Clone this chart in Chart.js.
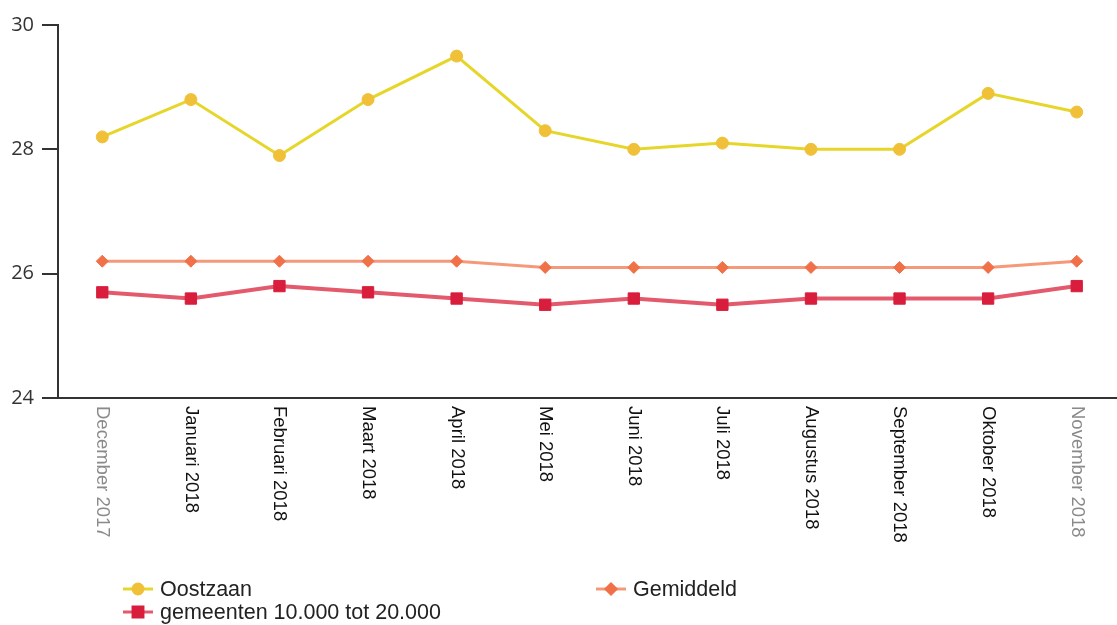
<!DOCTYPE html>
<html>
<head>
<meta charset="utf-8">
<script src="https://cdn.jsdelivr.net/npm/chart.js@4"></script>
<style>
  html, body { margin: 0; padding: 0; background: #fff; overflow: hidden; }
  canvas { display: block; }
</style>
</head>
<body>
<canvas id="c" width="1130" height="625"></canvas>
<script>
const categories = ["December 2017", "Januari 2018", "Februari 2018", "Maart 2018", "April 2018", "Mei 2018",
  "Juni 2018", "Juli 2018", "Augustus 2018", "September 2018", "Oktober 2018", "November 2018"];
const oostzaan = [28.2, 28.8, 27.9, 28.8, 29.5, 28.3, 28.0, 28.1, 28.0, 28.0, 28.9, 28.6];
const gemeenten = [25.7, 25.6, 25.8, 25.7, 25.6, 25.5, 25.6, 25.5, 25.6, 25.6, 25.6, 25.8];
const gemiddeld = [26.2, 26.2, 26.2, 26.2, 26.2, 26.1, 26.1, 26.1, 26.1, 26.1, 26.1, 26.2];
const yTicks = [24, 26, 28, 30];
const greyLabels = ["December 2017", "November 2018"];

const FONT = '"Liberation Sans", Arial, sans-serif';

const xLabelPlugin = {
  id: 'xLabels',
  afterDraw(chart) {
    const ctx = chart.ctx;
    const xs = chart.scales.x;
    const top = chart.chartArea.bottom + 8;
    ctx.save();
    ctx.font = '18.5px ' + FONT;
    ctx.textAlign = 'left';
    ctx.textBaseline = 'middle';
    categories.forEach((lab, i) => {
      const x = xs.getPixelForValue(i);
      ctx.save();
      ctx.translate(x, top);
      ctx.rotate(Math.PI / 2);
      ctx.fillStyle = greyLabels.includes(lab) ? '#8a8a8a' : '#111';
      ctx.fillText(lab, 0, 0);
      ctx.restore();
    });
    ctx.restore();
  }
};

const legendPos = [
  { x: 138, y: 589 },
  { x: 138, y: 612 },
  { x: 611, y: 589 }
];
const legendPlugin = {
  id: 'customLegend',
  afterDraw(chart) {
    const ctx = chart.ctx;
    ctx.save();
    ctx.font = '21.5px ' + FONT;
    ctx.textAlign = 'left';
    ctx.textBaseline = 'middle';
    chart.data.datasets.forEach((ds, i) => {
      const p = legendPos[i];
      ctx.strokeStyle = ds.borderColor;
      ctx.lineWidth = 3;
      ctx.beginPath();
      ctx.moveTo(p.x - 15, p.y);
      ctx.lineTo(p.x + 15, p.y);
      ctx.stroke();
      ctx.fillStyle = ds.pointBackgroundColor;
      ctx.strokeStyle = ds.pointBorderColor;
      Chart.helpers.drawPoint(ctx, {
        pointStyle: ds.pointStyle, radius: ds.pointRadius - 1, rotation: 0, borderWidth: 1
      }, p.x, p.y);
      ctx.fillStyle = '#222';
      ctx.fillText(ds.label, p.x + 22, p.y + 1);
    });
    ctx.restore();
  }
};

new Chart(document.getElementById('c'), {
  type: 'line',
  data: {
    labels: categories,
    datasets: [
      {
        label: 'Oostzaan', data: oostzaan,
        borderColor: '#e6d62a', borderWidth: 3,
        pointStyle: 'circle', pointRadius: 6,
        pointBackgroundColor: '#f0c038', pointBorderColor: '#f0c038', pointBorderWidth: 1,
        tension: 0
      },
      {
        label: 'gemeenten 10.000 tot 20.000', data: gemeenten,
        borderColor: '#e35a6c', borderWidth: 4,
        pointStyle: 'rect', pointRadius: 8,
        pointBackgroundColor: '#d81e3c', pointBorderColor: '#d81e3c', pointBorderWidth: 1,
        tension: 0
      },
      {
        label: 'Gemiddeld', data: gemiddeld,
        borderColor: '#f49a7a', borderWidth: 3,
        pointStyle: 'rectRot', pointRadius: 6,
        pointBackgroundColor: '#f07048', pointBorderColor: '#f07048', pointBorderWidth: 1,
        tension: 0
      }
    ]
  },
  options: {
    responsive: false,
    animation: false,
    events: [],
    layout: { padding: { top: 25, right: 4, left: 0, bottom: 0 } },
    plugins: { legend: { display: false }, tooltip: { enabled: false } },
    scales: {
      x: {
        type: 'category',
        offset: true,
        ticks: { display: false },
        grid: { display: false },
        border: { display: true, color: '#333', width: 2 },
        afterFit(s) { s.height = 227; }
      },
      y: {
        min: 24, max: 30,
        afterBuildTicks(s) { s.ticks = yTicks.map(v => ({ value: v })); },
        ticks: { font: { size: 20, family: '"Open Sans", Arial, sans-serif' }, color: '#333', padding: 8 },
        grid: { drawOnChartArea: false, drawTicks: true, tickLength: 16, color: '#333', lineWidth: 2 },
        border: { display: true, color: '#333', width: 2 },
        afterFit(s) { s.width = 58; }
      }
    }
  },
  plugins: [xLabelPlugin, legendPlugin]
});
</script>
</body>
</html>
